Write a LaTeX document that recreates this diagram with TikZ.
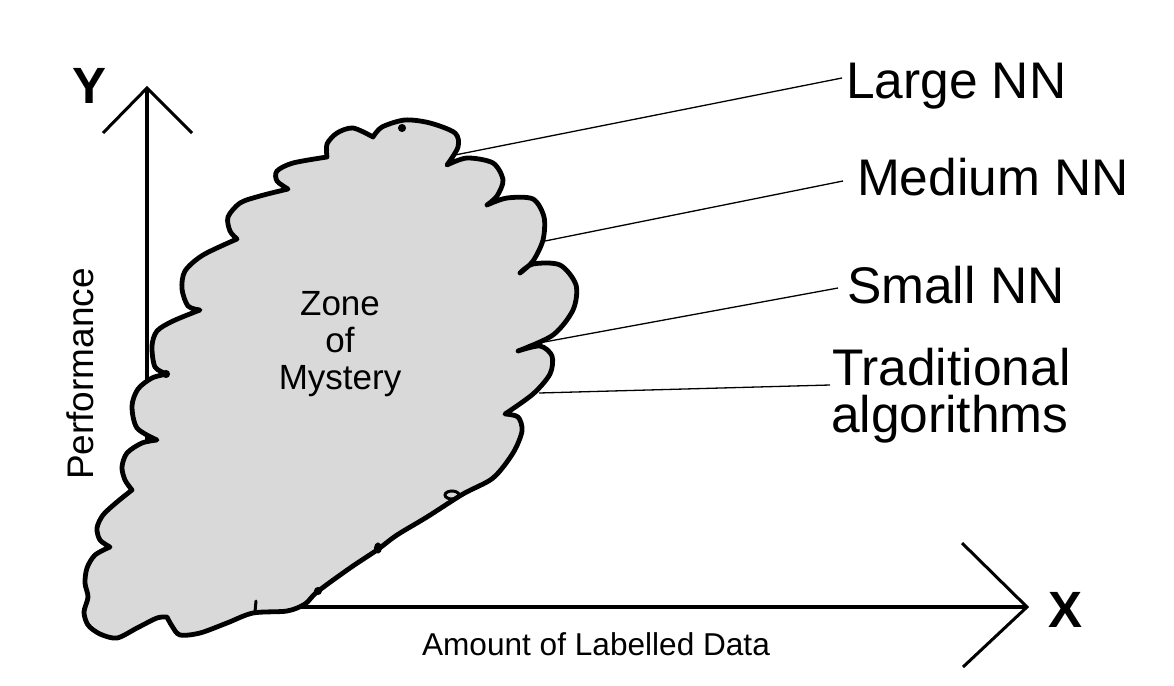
\documentclass[tikz,border=0pt]{standalone}
\usepackage{fontspec}
\setmainfont{Liberation Sans}
\definecolor{cloudgray}{RGB}{217,217,217}
\begin{document}
\begin{tikzpicture}[x=1pt,y=-1pt,
  axisline/.style={line width=3.6pt},
  armline/.style={line width=3pt},
  leader/.style={line width=1.3pt},
  cloudshape/.style={fill=cloudgray,draw=black,line width=4.8pt,line join=round,line cap=round},
  blob/.style={fill=black,draw=black,line width=1pt},
  lbl/.style={anchor=base west,inner sep=0pt,outer sep=0pt,font=\fontsize{51.5}{60}\selectfont},
  axlbl/.style={anchor=base west,inner sep=0pt,outer sep=0pt,font=\fontsize{51}{60}\selectfont\bfseries}]
\useasboundingbox (0,0) rectangle (1174,685);

% axes
\coordinate (O) at (147,606);
\coordinate (ytip) at (147,88);
\coordinate (xtip) at (1027,607);
\coordinate (yl) at (103,133);
\coordinate (yr) at (192,133);
\coordinate (xu) at (962,543);
\coordinate (xd) at (963,667);
\draw[axisline] (O) -- (ytip);
\draw[axisline] (O |- xtip) -- (xtip);
\draw[armline] (yl) -- (ytip) -- (yr);
\draw[armline] (xu) -- (xtip) -- (xd);

% cloud
\filldraw[cloudshape]
  plot[smooth] coordinates {(373,137) (382,127) (405,120) (430,123) (455,133) (458,147) (447,165)}
  -- plot[smooth] coordinates {(447,165) (467,158) (493,163) (503,180) (497,196) (487,205)}
  -- plot[smooth] coordinates {(487,205) (507,198) (533,199) (544,217) (543,240) (533,261) (520,273)}
  -- plot[smooth] coordinates {(520,273) (533,264) (560,265) (576,285) (573,310) (553,335) (518,351)}
  -- plot[smooth] coordinates {(518,351) (540,346) (552,356) (550,374) (533,394) (505,414)}
  -- plot[smooth] coordinates {(505,414) (518,417) (522,431) (513,453) (493,478) (463,494) (427,517) (397,535) (377,550) (350,568) (317,592) (305,604) (287,611) (253,613) (227,623) (200,633) (180,635) (172,626) (167,617)}
  -- plot[smooth] coordinates {(167,617) (157,618) (137,628) (117,638) (100,634) (88,625) (84,612) (88,597) (85,583) (87,568) (95,555) (110,547)}
  -- plot[smooth] coordinates {(110,547) (100,540) (97,528) (103,515) (117,502) (132,490)}
  -- plot[smooth] coordinates {(132,490) (125,480) (122,467) (127,453) (142,443) (157,440)}
  -- plot[smooth] coordinates {(157,440) (137,428) (132,406) (138,389) (152,378) (167,374)}
  -- plot[smooth] coordinates {(167,374) (155,367) (152,346) (157,331) (173,321) (200,310)}
  -- plot[smooth] coordinates {(200,310) (188,306) (182,289) (185,271) (203,255) (237,239)}
  -- plot[smooth] coordinates {(237,239) (230,231) (228,217) (240,203) (260,196) (288,189)}
  -- plot[smooth] coordinates {(288,189) (277,181) (277,171) (293,163) (327,157)}
  -- plot[smooth] coordinates {(327,157) (327,144) (337,133) (353,128) (373,137)}
  -- cycle;

% small marks on the outline
\fill[blob] (402,128) circle (3.5);
\fill[blob] (166,374) circle (3.5);
\fill[blob] (378,548) ellipse [x radius=3.5, y radius=5];
\fill[blob] (318,591) circle (3.5);
\draw[line width=3pt] (452,495) ellipse [x radius=7, y radius=4];
\draw[line width=3pt,line cap=round] (255,612) -- (256,601);

% texts
\node[anchor=center,align=center,inner sep=0pt,font=\fontsize{35}{37}\selectfont] (zone) at (340,344) {Zone\\of\\Mystery};
\node[anchor=base,rotate=90,inner sep=0pt,font=\fontsize{37}{40}\selectfont] (perf) at (93,374) {Performance};
\node[anchor=base,inner sep=0pt,font=\fontsize{31.6}{36}\selectfont] (amount) at (596,655) {Amount of Labelled Data};
\node[axlbl] (ylab) at (72,103) {Y};
\node[axlbl] (xlab) at (1048,627) {X};

\node[lbl] (large) at (846,98) {Large NN};
\node[lbl] (medium) at (857,195) {Medium NN};
\node[lbl] (small) at (847,303) {Small NN};
\node[lbl] (trad) at (832,385) {Traditional};
\node[lbl] (algo) at (831,432) {algorithms};

% leaders
\coordinate (cl) at (455,155);
\coordinate (cm) at (545,241);
\coordinate (cs) at (528,345);
\coordinate (ct) at (539,393);
\draw[leader] (cl) -- ([shift={(-4,-20)}]large.base west);
\draw[leader] (cm) -- ([shift={(-14,-14)}]medium.base west);
\draw[leader] (cs) -- ([shift={(-9,-15)}]small.base west);
\draw[leader] (ct) -- ([shift={(-2,0)}]trad.base west);
\end{tikzpicture}
\end{document}
